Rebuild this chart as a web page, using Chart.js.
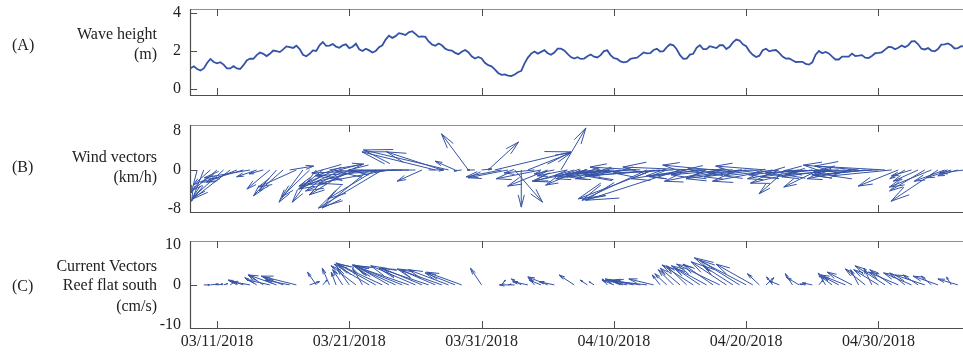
<!DOCTYPE html>
<html lang="en">
<head>
<meta charset="UTF-8">
<title>Wave height, wind and current vectors</title>
<script src="https://cdn.jsdelivr.net/npm/chart.js@4"></script>
<style>
    body { margin: 0; background: #fff; }
    #fig {
        position: relative;
        width: 963px;
        height: 357px;
        font-family: 'Liberation Serif', 'Times New Roman', serif;
        font-size: 16px;
        color: #222;
    }
    #fig canvas { position: absolute; left: 0; }
    .lbl { position: absolute; line-height: 18px; white-space: nowrap; }
    .name { right: 806px; text-align: right; }
    .tag { left: 12px; }
</style>
</head>
<body>
<div id="fig">
    <canvas id="waveChart" width="963" height="110" style="top:0"></canvas>
    <canvas id="windChart" width="963" height="115" style="top:110px"></canvas>
    <canvas id="currentChart" width="963" height="132" style="top:225px"></canvas>

    <div class="lbl tag" style="top:36px">(A)</div>
    <div class="lbl name" style="top:25px">Wave height</div>
    <div class="lbl name" style="top:45px">(m)</div>

    <div class="lbl tag" style="top:158px">(B)</div>
    <div class="lbl name" style="top:148px">Wind vectors</div>
    <div class="lbl name" style="top:168px">(km/h)</div>

    <div class="lbl tag" style="top:277px">(C)</div>
    <div class="lbl name" style="top:257px">Current Vectors</div>
    <div class="lbl name" style="top:276px">Reef flat south</div>
    <div class="lbl name" style="top:297px">(cm/s)</div>
</div>

<script>
// time axis: days after 03/11/2018 00:00
const dateTicks = [0, 10, 20, 30, 40, 50];
const windDateTicks = [10, 30, 50];
const xMin = -2.04;
const xMax = 56.39;

// wave height (m), every 6 h from 03/09/2018 00:00
const waveStart = -2;
const waveStep = 0.25;
const waveHeight = [
    1.09, 1.19, 1.05, 0.97, 1.08, 1.37, 1.58, 1.42, 1.35, 1.41,
    1.28, 1.08, 1.08, 1.2, 1.08, 1.05, 1.25, 1.5, 1.6, 1.59,
    1.78, 1.92, 1.85, 1.73, 1.85, 2.02, 1.99, 1.94, 2.08, 2.24,
    2.2, 2.16, 2.28, 2.1, 1.8, 1.72, 1.85, 2.03, 2.0, 2.3,
    2.47, 2.27, 2.28, 2.36, 2.23, 2.17, 2.3, 2.35, 2.15, 2.22,
    2.38, 2.09, 2.0, 2.12, 2.03, 1.92, 2.0, 2.2, 2.3, 2.6,
    2.8, 2.69, 2.78, 2.94, 2.9, 2.84, 2.98, 3.04, 2.9, 2.74,
    2.77, 2.74, 2.5, 2.34, 2.28, 2.39, 2.3, 2.12, 2.04, 2.02,
    1.9, 1.83, 1.96, 2.05, 1.93, 1.72, 1.6, 1.68, 1.6, 1.38,
    1.25, 1.19, 1.03, 0.84, 0.74, 0.77, 0.7, 0.68, 0.76, 0.88,
    0.95, 1.35, 1.65, 1.86, 1.97, 1.86, 1.95, 2.04, 1.88, 1.8,
    1.92, 2.12, 2.12, 2.03, 1.85, 1.68, 1.6, 1.67, 1.58, 1.6,
    1.72, 1.81, 1.7, 1.66, 1.78, 1.99, 2.03, 1.78, 1.62, 1.58,
    1.45, 1.4, 1.44, 1.58, 1.62, 1.65, 1.78, 1.92, 1.87, 1.88,
    2.05, 2.11, 1.97, 1.99, 2.2, 2.35, 2.3, 2.09, 1.78, 1.59,
    1.6, 1.81, 1.85, 2.17, 2.3, 2.1, 2.1, 2.25, 2.2, 2.15,
    2.3, 2.3, 2.1, 2.22, 2.45, 2.6, 2.55, 2.35, 2.25, 1.98,
    1.8, 1.68, 1.75, 2.04, 2.12, 1.98, 2.03, 2.05, 1.9, 1.7,
    1.6, 1.61, 1.51, 1.42, 1.43, 1.43, 1.32, 1.28, 1.4, 1.8,
    2.0, 1.88, 1.95, 1.87, 1.7, 1.55, 1.55, 1.7, 1.7, 1.7,
    1.86, 1.73, 1.75, 1.78, 1.65, 1.63, 1.74, 1.88, 1.9, 1.93,
    2.07, 2.21, 2.2, 2.09, 2.17, 2.29, 2.2, 2.3, 2.5, 2.52,
    2.35, 2.12, 2.08, 2.15, 2.02, 1.98, 2.1, 2.33, 2.35, 2.4,
    2.3, 2.13, 2.15, 2.25, 2.23
];

// vectors every 12 h from 03/09/2018 00:00
const vectorStart = -2;
const vectorStep = 0.5;

// wind (km/h): east and north components
const windU = [
    -1.6, -1.2, -2.5, -3.5, -4.9, -6.4, -7.6, -6.2, -8.8, -9.4,
    -4.1, -2.9, -4.7, -4.7, -4.9, 4.9, -7.8, -4.9, -5.7, -4.9,
    -4.9, 7.0, -7.6, -9.0, -8.2, -10.3, -11.3, -9.6, -9.8, -13.1,
    -14.4, -16.4, -18.5, -12.3, -16.4, -5.1, 3.1, -15.0, -11.3, -17.4,
    -4.1, -1.6, -5.5, -1.6, 2.1, 6.2, 15.6, -7.2, -8.2, 5.7,
    0, 8.8, -6.2, -9.2, -8.2, -4.1, 5.1, -6.2, -8.2, -7.2,
    -11.3, -8.2, -9.2, -6.2, -10.3, -9.2, -12.3, -10.3, -10.3, -13.3,
    -15.4, -14.4, -16.8, -12.3, -19.3, -11.3, -14.4, -10.3, -12.3, -10.3,
    -11.3, -11.3, -9.2, -10.3, -12.3, -9.2, -11.3, -10.3, -12.3, -11.3,
    -5.5, -9.2, -10.3, -11.3, -10.3, -7.2, -12.3, -10.3, -11.3, -12.3,
    -9.2, -11.3, -10.3, -12.3, -13.3, -14.4, -12.3, -8.2, -3.1, -4.1,
    -5.1, -7.2, -8.6, -9.6, -6.2, -5.1, -4.1, -5.1
];
const windV = [
    -1.8, -4.7, -6.4, -3.1, -4.1, -5.7, -5.9, -2.5, -2.5, -1.6,
    -1.4, -0.8, -3.9, -5.3, -4.3, 0.8, -3.5, -6.6, -5.5, -6.6,
    -3.9, 1.2, -3.3, -3.9, -5.1, -4.3, -2.9, -7.8, -5.9, -7.8,
    -2.7, -1.2, -0.6, 0, -0.2, -2.3, 0, 3.7, 3.7, 4.1,
    1.8, -0.2, 7.4, 0, 0.2, 5.7, 3.7, -1.4, -1.6, -6.6,
    -7.6, 3.5, -0.6, -1.8, -3.3, -0.8, 8.6, -1.2, -2.3, -3.1,
    -2.3, -1.2, -1.8, -0.6, -1.0, -1.8, -1.4, -0.6, 0.6, -6.2,
    -5.9, -1.2, -1.2, -0.6, -6.2, -1.8, 0.6, -1.4, -1.2, 1.0,
    -2.3, -1.0, 0.2, -1.4, -1.8, -0.6, -1.4, 0.8, -2.3, -1.2,
    -4.9, -1.8, -1.0, -2.7, -1.4, -3.5, -0.6, -1.4, -0.2, -1.0,
    -1.8, 1.0, -1.2, -1.0, -0.4, 0.8, -1.2, -3.3, -1.8, -1.2,
    -2.3, -4.3, -3.5, -6.4, -2.3, -1.6, -1.2, -0.6
];

// current, reef flat south (cm/s); null = no record
const currentU = [
    null, null, 1.5, 2, 1.5, 1, 1.2, -2, -3.8, -4.5,
    -3, -3.8, -5.5, -7, -5, -6.2, -8.8, null, 2.5, -2.2,
    1, -1.8, -1.2, -2.5, -3, -6.2, -2.5, -8.8, -10, -11.2,
    -8.8, -10.5, -12.5, -13.8, -11.2, -10, -12.5, -8.8, -11.2, -10,
    -7.5, -8.8, null, null, -2.8, null, null, 1, 0.8, -3.8,
    -2.5, -3.8, -1.5, -3, -5, -3.8, null, null, -3.8, null,
    -1.8, -1.2, null, -1.2, -3, -3.8, -5.5, -5, -7.5, -8.8,
    -6.2, -2, -3, -3.8, -5, -5, -7.8, -6.2, -8.8, -7.5,
    -10.8, -8.8, -7.5, -10, -13, -9.2, -3, 2, -1.5, -2.5,
    null, -1.8, -3, -1.5, -2.5, 1, -1.8, -3, -3.8, -6.2,
    -6.2, -2, -5, -2, -6.2, -7.5, -5.5, -7.5, -3.8, -7,
    -3.8, -7.5, -2.5, -6.2, null, -1.2, -5, null
];
const currentV = [
    null, null, 0, 0.2, 0.2, 0.3, 0.8, 1.2, 1.2, 0.8,
    1.8, 2.5, 1.2, 2.5, 2, 1.2, 2.2, null, 0.8, 3.2,
    1.2, 4.2, 3.2, 3.8, 4.2, 4.8, 4.2, 5.2, 5.5, 5.2,
    5, 4.8, 5, 4.8, 4.8, 4.2, 4.2, 3.8, 4, 3.8,
    3, 3.2, null, null, 4.2, null, null, 1.2, 0.2, 0,
    1.5, 0.8, 1.8, 1.2, 2, 0.8, null, null, 2.5, null,
    1.2, 0.8, null, 1.5, 1.2, 1.5, 1.2, 1, 1.2, 1,
    1.5, 2.5, 2.8, 3.8, 4.2, 4.8, 5, 4.2, 4.8, 5.2,
    5.2, 5.8, 4.8, 6.2, 6.8, 5.2, 2.8, 1.8, 2, 1,
    null, 2.8, 1.8, 0.2, 0.5, 1.2, 3, 2.2, 2, 2.5,
    3.2, 3.8, 4, 4.2, 3.8, 4.8, 3.8, 3.2, 3, 3,
    2.5, 2.5, 2.2, 2.2, null, 2, 1.5, null
];

const lineColor = '#3553a6';
const textColor = '#222';
const serif = { family: "'Liberation Serif', 'Times New Roman', serif", size: 16 };

function fmtDate(day) {
    const d = new Date(Date.UTC(2018, 2, 11 + day));
    const mm = String(d.getUTCMonth() + 1).padStart(2, '0');
    const dd = String(d.getUTCDate()).padStart(2, '0');
    return mm + '/' + dd + '/' + d.getUTCFullYear();
}

// box with inward tick marks
function framePlugin(xTicks, yTicks) {
    return {
        id: 'frame',
        afterDraw(chart) {
            const { ctx, chartArea: a, scales: { x, y } } = chart;
            const len = 7;
            ctx.save();
            ctx.lineWidth = 1.2;
            ctx.strokeStyle = '#909090';
            ctx.beginPath();
            ctx.moveTo(a.left, a.top + 0.5);
            ctx.lineTo(a.right, a.top + 0.5);
            ctx.stroke();
            ctx.strokeStyle = '#4d4d4d';
            ctx.beginPath();
            ctx.moveTo(a.left + 0.5, a.top);
            ctx.lineTo(a.left + 0.5, a.bottom + 0.5);
            ctx.lineTo(a.right, a.bottom + 0.5);
            ctx.stroke();
            ctx.lineWidth = 1;
            ctx.beginPath();
            xTicks.forEach(d => {
                const px = Math.round(x.getPixelForValue(d)) + 0.5;
                ctx.moveTo(px, a.top);
                ctx.lineTo(px, a.top + len);
                ctx.moveTo(px, a.bottom);
                ctx.lineTo(px, a.bottom - len);
            });
            yTicks.forEach(v => {
                const py = Math.round(y.getPixelForValue(v)) + 0.5;
                ctx.moveTo(a.left, py);
                ctx.lineTo(a.left + len, py);
            });
            ctx.stroke();
            ctx.restore();
        }
    };
}

// stick plot: arrows from (t, 0) with u along time, v up, same pixel scale
function vectorPlugin(us, vs) {
    const headA = 0.33, headB = 0.25;
    return {
        id: 'vectors',
        afterDatasetsDraw(chart) {
            const { ctx, chartArea: a, scales: { x, y } } = chart;
            const y0 = y.getPixelForValue(0);
            const k = y0 - y.getPixelForValue(1);
            ctx.save();
            ctx.beginPath();
            ctx.rect(a.left, a.top, a.right - a.left, a.bottom - a.top);
            ctx.clip();
            ctx.strokeStyle = lineColor;
            ctx.lineWidth = 1;
            ctx.beginPath();
            us.forEach((u, i) => {
                const v = vs[i];
                if (u === null || v === null) return;
                const U = u * k, V = v * k;
                if (U === 0 && V === 0) return;
                const ox = x.getPixelForValue(vectorStart + i * vectorStep);
                const tx = ox + U, ty = y0 - V;
                ctx.moveTo(ox, y0);
                ctx.lineTo(tx, ty);
                ctx.moveTo(ox + U - headA * (U + headB * V), y0 - (V - headA * (V - headB * U)));
                ctx.lineTo(tx, ty);
                ctx.lineTo(ox + U - headA * (U - headB * V), y0 - (V - headA * (V + headB * U)));
            });
            ctx.stroke();
            ctx.restore();
        }
    };
}

function yScale(min, max, ticks) {
    return {
        min: min,
        max: max,
        afterBuildTicks: s => { s.ticks = ticks.map(v => ({ value: v })); },
        afterFit: s => {
            s.width = 190;
            s.paddingTop = 0;
            s.paddingBottom = 0;
        },
        grid: { display: false, drawTicks: false },
        border: { display: false },
        ticks: { font: serif, color: textColor, padding: 9 }
    };
}

function xScale(showLabels) {
    return {
        type: 'linear',
        min: xMin,
        max: xMax,
        display: showLabels,
        afterBuildTicks: s => { s.ticks = dateTicks.map(v => ({ value: v })); },
        afterFit: s => {
            s.height = showLabels ? 29 : 0;
            s.paddingLeft = 0;
            s.paddingRight = 0;
        },
        grid: { display: false, drawTicks: false },
        border: { display: false },
        ticks: {
            font: serif,
            color: textColor,
            padding: 4,
            maxRotation: 0,
            autoSkip: false,
            callback: v => fmtDate(v)
        }
    };
}

const baseOptions = {
    responsive: false,
    animation: false,
    devicePixelRatio: 1,
    plugins: { legend: { display: false }, tooltip: { enabled: false } }
};

new Chart(document.getElementById('waveChart'), {
    type: 'line',
    data: {
        datasets: [{
            data: waveHeight.map((h, i) => ({ x: waveStart + i * waveStep, y: h })),
            borderColor: lineColor,
            borderWidth: 1.8,
            pointRadius: 0,
            tension: 0
        }]
    },
    options: {
        ...baseOptions,
        layout: { padding: { top: 9, bottom: 15, left: 0, right: 0 } },
        scales: { x: xScale(false), y: yScale(-0.32, 4.21, [0, 2, 4]) }
    },
    plugins: [framePlugin(dateTicks, [0, 2, 4])]
});

new Chart(document.getElementById('windChart'), {
    type: 'line',
    data: { datasets: [] },
    options: {
        ...baseOptions,
        layout: { padding: { top: 15, bottom: 13, left: 0, right: 0 } },
        scales: { x: xScale(false), y: yScale(-8.6, 9.2, [-8, 0, 8]) }
    },
    plugins: [vectorPlugin(windU, windV), framePlugin(windDateTicks, [0])]
});

new Chart(document.getElementById('currentChart'), {
    type: 'line',
    data: { datasets: [] },
    options: {
        ...baseOptions,
        layout: { padding: { top: 16, bottom: 0, left: 0, right: 0 } },
        scales: { x: xScale(true), y: yScale(-10.8, 11, [-10, 0, 10]) }
    },
    plugins: [vectorPlugin(currentU, currentV), framePlugin(dateTicks, [0])]
});
</script>
</body>
</html>
